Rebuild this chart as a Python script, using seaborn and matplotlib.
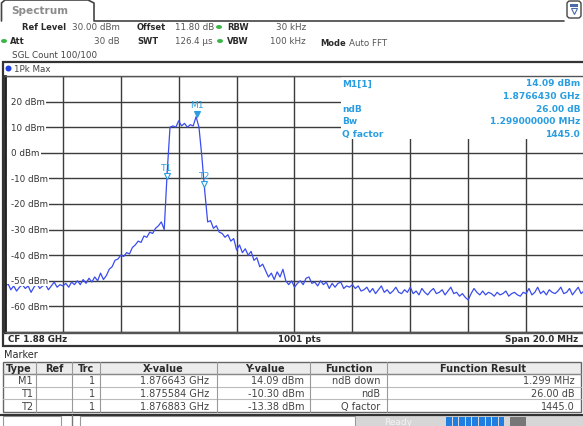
import numpy as np
import matplotlib
matplotlib.use("Agg")
import matplotlib.pyplot as plt
import matplotlib.transforms as mtransforms
from matplotlib.patches import Rectangle, FancyBboxPatch, Ellipse
import seaborn as sns

sns.set_style("white")
plt.rcParams['font.family'] = ['DejaVu Sans']

W, H = 583, 427

# trace 1 (1Pk Max), 0.1 MHz steps from 1.87 to 1.89 GHz
level_dbm = [
    # 1.870 - 1.872
    -52.5, -51.0, -53.5, -52.0, -54.0, -52.5, -51.5, -53.0, -52.0, -54.5,
    -52.5, -51.0, -53.0, -52.0, -51.5, -53.5, -52.0, -50.5, -52.5, -51.5,
    -52.0,
    # 1.8721 - 1.874
    -51.0, -52.5, -50.5, -51.5, -50.0, -51.5, -49.5, -51.0, -49.0, -50.5,
    -48.5, -50.0, -47.0, -49.5, -48.0, -45.5, -44.5, -42.0, -41.5, -40.0,
    # 1.8741 - 1.876
    -40.5, -39.0, -39.5, -37.0, -36.0, -34.5, -35.0, -32.5, -33.0, -31.0,
    -31.5, -29.5, -28.5, -27.0, -30.0, -8.0, 10.0, 10.5, 10.0, 12.5,
    # 1.8761 - 1.878
    10.5, 11.5, 10.0, 11.0, 10.5, 14.1, 10.0, -1.5, -15.0, -27.0,
    -26.5, -29.5, -28.5, -31.0, -31.5, -33.0, -32.0, -34.5, -33.5, -38.0,
    # 1.8781 - 1.880
    -36.0, -39.0, -37.5, -40.0, -38.5, -42.0, -41.0, -44.5, -43.5, -46.0,
    -48.5, -47.0, -49.5, -46.5, -48.5, -45.5, -50.0, -51.5, -50.0, -52.5,
    # 1.8801 - 1.882
    -51.0, -50.0, -51.5, -49.0, -48.5, -51.0, -50.5, -52.0, -50.0, -51.5,
    -50.5, -53.0, -51.0, -52.5, -51.0, -50.5, -53.0, -52.0, -52.5, -51.5,
    # 1.8821 - 1.890
    -53.0, -52.0, -54.0, -53.5, -52.5, -54.5, -53.0, -55.0, -53.5, -52.0,
    -54.5, -53.5, -55.0, -54.0, -52.5, -54.5, -55.0, -53.5, -54.5, -52.5,
    -55.0, -54.0, -55.5, -53.0, -54.5, -55.5, -54.0, -53.0, -55.0, -54.5,
    -53.5, -55.5, -54.0, -52.5, -55.0, -54.5, -56.0, -55.0, -56.5, -57.5,
    -55.0, -53.0, -54.5, -55.5, -54.0, -55.5, -54.5, -55.0, -56.0, -54.5,
    -55.5, -55.0, -54.0, -56.0, -55.0, -54.5, -55.5, -56.0, -54.5, -55.0,
    -53.0, -55.5, -54.5, -52.5, -55.0, -54.0, -55.5, -53.5, -54.5, -55.0,
    -54.0, -52.5, -55.0, -54.5, -53.0, -55.5, -54.0, -52.5, -55.0, -54.0,
]
freq_ghz = np.linspace(1.87, 1.89, len(level_dbm))

y_labels = [20, 10, 0, -10, -20, -30, -40, -50, -60]

# marker table
mk_type = ["M1", "T1", "T2"]
mk_trc = ["1", "1", "1"]
mk_freq = [1.876643, 1.875584, 1.876883]
mk_level = [14.09, -10.30, -13.38]
mk_func = ["ndB down", "ndB", "Q factor"]
mk_result = ["1.299 MHz", "26.00 dB", "1445.0"]

# marker info box
info_rows = [("M1[1]", "14.09 dBm"), ("", "1.8766430 GHz"), ("ndB", "26.00 dB"),
             ("Bw", "1.299000000 MHz"), ("Q factor", "1445.0")]

BLUE = "#3a4cee"
CYAN = "#2a9de0"
DARK = "#2a2a2a"

fig = plt.figure(figsize=(W / 100, H / 100), dpi=100)
bg = fig.add_axes([0, 0, 1, 1], zorder=0)
bg.set_xlim(0, W)
bg.set_ylim(H, 0)
bg.axis("off")


def txt(x, y, s, size=6.3, weight="normal", color=DARK, ha="left"):
    fig.text(x / W, 1 - y / H, s, fontsize=size, fontweight=weight,
             color=color, ha=ha, va="center")


# ---- title tab and header
bg.plot([1.5, 1.5, 5, 88, 94, 94, 564], [22, 4, 1, 1, 4, 22, 22], color="#444", lw=1.2)
txt(11, 11, "Spectrum", size=7.6, weight="bold", color="#8c8c8c")
bg.add_patch(FancyBboxPatch((567, 2), 14, 17, boxstyle="round,pad=0,rounding_size=3",
                            fc="white", ec="#444", lw=1))
bg.add_patch(Rectangle((570, 4.5), 8, 3, fc="#4a6aa8", ec="none"))
bg.plot([574], [12], marker="v", ms=5, mfc="white", mec="#4a6aa8", mew=0.8)

txt(22, 28, "Ref Level", size=6.0, weight="bold")
txt(120, 28, "30.00 dBm", color="#555", ha="right")
txt(137, 28, "Offset", size=6.0, weight="bold")
txt(175, 28, "11.80 dB", color="#555")
txt(227, 28, "RBW", size=6.0, weight="bold")
txt(306, 28, "30 kHz", color="#555", ha="right")
txt(10, 42, "Att", size=6.0, weight="bold")
txt(120, 42, "30 dB", color="#555", ha="right")
txt(137, 42, "SWT", size=6.0, weight="bold")
txt(175, 42, "126.4 µs", color="#555")
txt(227, 42, "VBW", size=6.0, weight="bold")
txt(306, 42, "100 kHz", color="#555", ha="right")
txt(320, 43, "Mode", size=6.0, weight="bold")
txt(349, 43, "Auto FFT", color="#555")
txt(12, 55, "SGL Count 100/100", color="#444")
for gx, gy in [(219, 28), (4, 42), (220, 42)]:
    bg.add_patch(Ellipse((gx, gy), 6, 4, fc="#3cb64a", ec="none"))

# ---- diagram frame
bg.add_patch(Rectangle((2.5, 62.5), 582, 284, fc="white", ec="#333", lw=1.6))
bg.plot([3, 584], [333.5, 333.5], color="#555", lw=1)
bg.add_patch(Ellipse((8.5, 69.5), 6, 6, fc="#1f3fe0", ec="none"))
txt(14, 69.5, "1Pk Max", color="#444")
txt(8, 339.5, "CF 1.88 GHz", weight="bold")
txt(300, 339.5, "1001 pts", weight="bold", ha="center")
txt(578, 339.5, "Span 20.0 MHz", weight="bold", ha="right")

ax = fig.add_axes([5 / W, 1 - 333 / H, 579 / W, 256 / H], zorder=1)
ax.set_facecolor("white")
ax.set_xlim(1.87, 1.89)
ax.set_ylim(-70, 30)
ax.set_xticks(np.linspace(1.87, 1.89, 11))
ax.set_yticks(np.arange(-70, 31, 10))
ax.tick_params(length=0, labelbottom=False, labelleft=False)
ax.set_axisbelow(True)
ax.grid(True, color="#3c3c3c", lw=1.0)
for side in ["top", "bottom", "right"]:
    ax.spines[side].set_color("#555")
    ax.spines[side].set_linewidth(1)
ax.spines["left"].set_color("#222")
ax.spines["left"].set_linewidth(2)

# white marker info panel hides the grid in the upper right
ax.add_patch(Rectangle((0.58, 5.4), 0.42, 24.6, transform=ax.get_yaxis_transform(),
                       fc="white", ec="none", zorder=1))

sns.lineplot(x=freq_ghz, y=level_dbm, ax=ax, color=BLUE, lw=0.9, sort=False, zorder=2)

for lv in y_labels:
    # white strip so the grid line only starts after the label
    ax.add_patch(Rectangle((0.002, lv - 1.2), 0.01, 2.4, transform=ax.get_yaxis_transform(),
                           fc="white", ec="none", zorder=2.5))
    ax.text(0.0105, lv, f"{lv} dBm", transform=ax.get_yaxis_transform(), fontsize=6.3,
            color="#333", ha="left", va="center", zorder=3,
            bbox=dict(fc="white", ec="none", pad=0.8))

tri_off = mtransforms.offset_copy(ax.transData, fig=fig, y=2.2, units="points")
lab_off = mtransforms.offset_copy(ax.transData, fig=fig, y=8.5, units="points")
for k in range(3):
    face = CYAN if k == 0 else "white"
    ax.plot([mk_freq[k]], [mk_level[k]], marker="v", ms=5, mfc=face, mec=CYAN, mew=0.8,
            transform=tri_off, zorder=4)
    ax.text(mk_freq[k], mk_level[k], mk_type[k], transform=lab_off, fontsize=6.6,
            color=CYAN, ha="center", va="center", zorder=4)

for r, (lab, val) in enumerate(info_rows):
    yy = 84 + r * 12.6
    if lab:
        txt(342, yy, lab, size=6.5, weight="bold", color=CYAN)
    txt(580, yy, val, size=6.5, weight="bold", color=CYAN, ha="right")

# ---- marker table
txt(4, 355, "Marker", size=7.0, color=DARK)
tab_top, row_h = 362.5, 12.6
bg.add_patch(Rectangle((3, tab_top), 578, row_h, fc="#ececec", ec="none"))
bg.add_patch(Rectangle((3, tab_top), 578, row_h * 4, fc="none", ec="#666", lw=1))
for r in range(1, 4):
    bg.plot([3, 581], [tab_top + r * row_h] * 2, color="#bbbbbb", lw=0.8)
bg.plot([3, 581], [tab_top + row_h] * 2, color="#888", lw=1)
col_sep = [36, 72, 100, 217, 310, 387]
for cx in col_sep:
    bg.plot([cx, cx], [tab_top, tab_top + 4 * row_h], color="#999", lw=0.8)
heads = [(19, "Type"), (54, "Ref"), (86, "Trc"), (163, "X-value"), (265, "Y-value"),
         (349, "Function"), (483, "Function Result")]
for hx, hs in heads:
    txt(hx, tab_top + row_h / 2, hs, size=7.0, weight="bold", ha="center")
for k in range(3):
    yy = tab_top + (k + 1.5) * row_h
    txt(33, yy, mk_type[k], size=7.0, color="#444", ha="right")
    txt(95, yy, mk_trc[k], size=7.0, color="#444", ha="right")
    txt(209, yy, f"{mk_freq[k]:.6f} GHz", size=7.0, color="#444", ha="right")
    txt(304, yy, f"{mk_level[k]:.2f} dBm", size=7.0, color="#444", ha="right")
    txt(380, yy, mk_func[k], size=7.0, color="#444", ha="right")
    txt(575, yy, mk_result[k], size=7.0, color="#444", ha="right")

# ---- status bar (cut off at the bottom edge)
bg.plot([0, W], [415.5, 415.5], color="#333", lw=1.6)
bg.add_patch(Rectangle((3, 417), 58, 12, fc="white", ec="#999", lw=0.8))
bg.add_patch(Rectangle((80, 417), 275, 12, fc="white", ec="#999", lw=0.8))
bg.plot([72, 72], [416, 427], color="#777", lw=1)
bg.add_patch(Rectangle((356, 416), 227, 12, fc="#d6d6d6", ec="none"))
txt(398, 423, "Ready", size=6.5, color="#f4f4f4", ha="center")
for s in range(9):
    bg.add_patch(Rectangle((446 + s * 6.6, 418), 5.6, 10, fc="#1f7ee0", ec="none"))
bg.add_patch(Rectangle((510, 418), 16, 10, fc="#777", ec="none"))

fig.savefig("out.png", dpi=100)
